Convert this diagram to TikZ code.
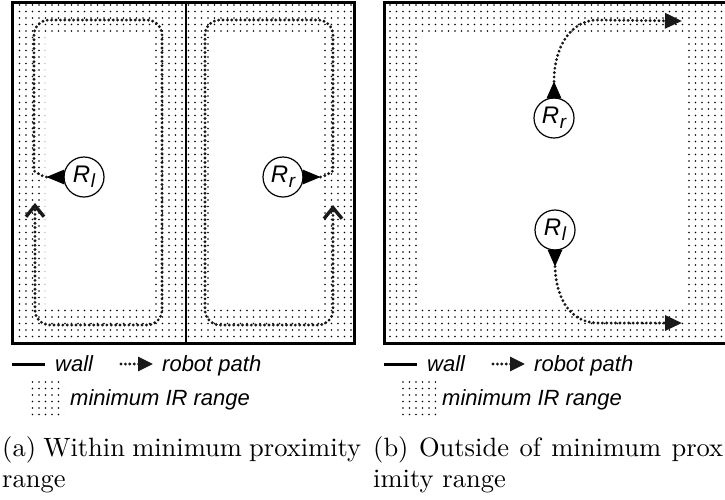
\documentclass[tikz,border=0pt]{standalone}
\usepackage{fontspec}
\newfontfamily\arial{Liberation Sans}
\newfontfamily\capfont{lmroman10-regular.otf}
\usetikzlibrary{arrows.meta,patterns,calc}
\pgfdeclarepatternformonly{irdots}{\pgfpoint{-1.5pt}{-1.5pt}}{\pgfpoint{1.5pt}{1.5pt}}{\pgfpoint{6.5pt}{6.5pt}}{\pgfpathcircle{\pgfpointorigin}{0.95pt}\pgfusepath{fill}}
\newcommand\rlab[1]{R\kern0.5pt\raisebox{-5pt}{\fontsize{19}{19}\selectfont #1}}
\tikzset{
  irrange/.style={pattern=irdots, pattern color=black, even odd rule},
  wall/.style={line width=3pt},
  divider/.style={line width=2pt},
  robot/.style={circle, draw, line width=1.2pt, fill=white, minimum size=40pt, inner sep=0pt,
    font=\arial\itshape\fontsize{24}{24}\selectfont},
  rpath/.style={line width=3.2pt, dash pattern=on 0pt off 4.4pt, line cap=round, draw=black!90},
  chev/.style={-{Straight Barb[length=11pt,width=18pt,line width=3.4pt]}},
  tri/.style={-{Triangle[length=17pt,width=15pt]}},
  legtext/.style={font=\arial\itshape\fontsize{22}{24}\selectfont, anchor=base west, inner sep=0pt},
  captext/.style={font=\capfont\fontsize{26.5}{30}\selectfont, anchor=base west, inner sep=0pt},
}
\begin{document}
\begin{tikzpicture}[x=1pt,y=-1pt]
\useasboundingbox (0,0) rectangle (725,499);
\clip (0,0) rectangle (725,499);

% ---------- panel (a) ----------
\path[irrange] (12,2) rectangle (186,343) (45,33) rectangle (152,308);
\path[irrange] (186,2) rectangle (354,343) (213,33) rectangle (322,308);
\draw[wall] (12,2) rectangle (354,343);
\draw[divider] (186,2) -- (186,343);

\node[robot] (RlA) at (84,177) {\rlab{l}};
\fill ($(RlA.west)+(1,-7.5)$) -- ($(RlA.west)+(-17,0)$) -- ($(RlA.west)+(1,7.5)$) -- cycle;
\coordinate (RlAtip) at ($(RlA.west)+(-17,0)$);
\coordinate (RlAend) at (35,203);
\draw[rpath, chev, rounded corners=15pt] (RlAtip) .. controls (40,176) and (34,170) .. (34,156)
  -- (34,20) -- (162,20) -- (162,325) -- (35,325) -- (RlAend);

\node[robot] (RrA) at (283,177) {\rlab{r}};
\fill ($(RrA.east)+(-1,-7.5)$) -- ($(RrA.east)+(17,0)$) -- ($(RrA.east)+(-1,7.5)$) -- cycle;
\coordinate (RrAtip) at ($(RrA.east)+(17,0)$);
\coordinate (RrAend) at (333,205);
\draw[rpath, chev, rounded corners=15pt] (RrAtip) .. controls (327,176) and (333,170) .. (333,156)
  -- (333,20) -- (205,20) -- (205,325) -- (333,325) -- (RrAend);

% ---------- panel (b) ----------
\path[irrange] (384,2) rectangle (760,343) (417,33) rectangle (688,308);
\draw[wall] (760,2) -- (384,2) -- (384,343) -- (760,343);

\node[robot] (RrB) at (554,118) {\rlab{r}};
\fill ($(RrB.north)+(-7.5,1)$) -- ($(RrB.north)+(0,-16)$) -- ($(RrB.north)+(7.5,1)$) -- cycle;
\coordinate (RrBtip) at ($(RrB.north)+(0,-16)$);
\coordinate (RrBend) at (682,21);
\draw[rpath, tri] (RrBtip) .. controls (554,48) and (570,20) .. (598,20) -- (RrBend);

\node[robot] (RlB) at (555,230) {\rlab{l}};
\fill ($(RlB.south)+(-7.5,-1)$) -- ($(RlB.south)+(0,16)$) -- ($(RlB.south)+(7.5,-1)$) -- cycle;
\coordinate (RlBtip) at ($(RlB.south)+(0,16)$);
\coordinate (RlBend) at (682,323);
\draw[rpath, tri] (RlBtip) .. controls (556,298) and (570,323) .. (598,323) -- (RlBend);

% ---------- legends ----------
\foreach \dx/\n in {0/a,372/b}{
  \coordinate (wallA\n) at (12+\dx,364);
  \coordinate (wallB\n) at (45+\dx,364);
  \draw[wall] (wallA\n) -- (wallB\n);
  \node[legtext] (wallT\n) at (55+\dx,371) {wall};
  \coordinate (pathA\n) at (121+\dx,364);
  \coordinate (pathB\n) at (153+\dx,364);
  \draw[rpath, -{Triangle[length=15pt,width=14pt]}] (pathA\n) -- (pathB\n);
  \node[legtext] (pathT\n) at (162+\dx,371) {robot path};
  \path[pattern=irdots, pattern color=black] (27+\dx,381) rectangle (64+\dx,415);
  \node[legtext] (irT\n) at (70+\dx,405) {minimum IR range};
}

% ---------- captions ----------
\node[captext] (capA1) at (2,456) {\makebox[359pt][s]{(a) Within minimum proximity}};
\node[captext] (capA2) at (2,487) {range};
\node[captext] (capB1) at (373,456) {\makebox[350pt][s]{(b) Outside of minimum prox}};
\node[captext] (capB2) at (373,487) {imity range};
\end{tikzpicture}
\end{document}
